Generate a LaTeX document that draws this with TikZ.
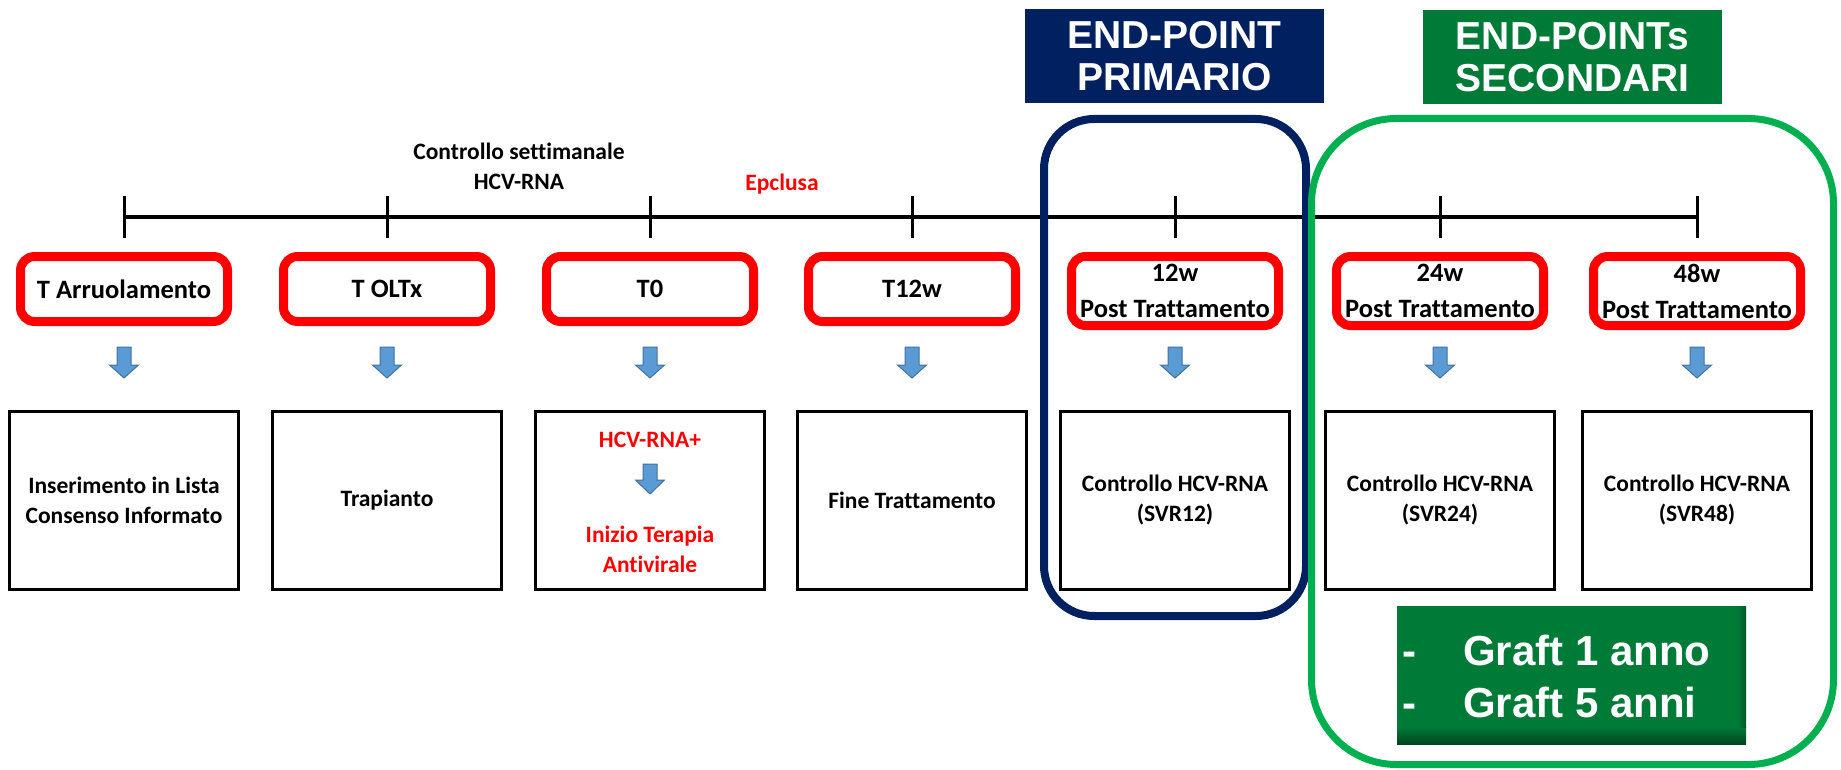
\documentclass[tikz,border=0pt]{standalone}
\usepackage{fontspec}
\setmainfont{Carlito}[Ligatures=NoCommon]
\newfontfamily\arialf{Liberation Sans}
\usetikzlibrary{calc}
\definecolor{epnavy}{HTML}{002060}
\definecolor{gline}{HTML}{00B050}
\definecolor{gfill}{HTML}{007A37}
\definecolor{gdark}{HTML}{00451F}
\definecolor{afill}{HTML}{5B9BD5}
\definecolor{aline}{HTML}{41719C}
\newcommand\dnarrow[4]{%
  \filldraw[blockarrow] ({#1-7},#2) -- ({#1+7},#2) -- ({#1+7},#3) -- ({#1+14.5},#3) -- ({#1},#4) -- ({#1-14.5},#3) -- ({#1-7},#3) -- cycle;}
\begin{document}
\begin{tikzpicture}[x=1pt,y=-1pt,
  redbox/.style={draw=red, line width=9pt, rounded corners=14pt, minimum width=207pt, inner sep=0pt, align=center, font=\fontsize{26.5}{36}\selectfont\bfseries},
  blackbox/.style={draw=black, line width=3pt, minimum width=229pt, minimum height=178pt, inner sep=0pt, align=center, font=\fontsize{23.5}{30}\selectfont\bfseries},
  btext/.style={align=center, font=\fontsize{23.5}{30}\selectfont\bfseries, inner sep=0pt},
  tickline/.style={line width=3pt},
  blockarrow/.style={fill=afill, draw=aline, line width=1pt},
  labelbox/.style={text=white, minimum width=299pt, minimum height=94pt, inner sep=0pt, align=center, font=\arialf\bfseries\fontsize{39}{42}\selectfont},
  grafttext/.style={text=white, inner sep=0pt, anchor=base west, font=\arialf\bfseries\fontsize{42}{52}\selectfont}
]
\useasboundingbox (0,0) rectangle (1841,770);

% timeline
\foreach \x/\n in {124/1,387/2,650/3,912/4,1175/5,1440/6,1697/7}{
  \coordinate (t\n) at (\x,217);
  \draw[tickline] (\x,196) -- (\x,238);
  \dnarrow{\x}{347}{365}{378}
}
\draw[line width=3.5pt] (t1) -- (t7);

% top texts
\node[btext] (ctrl) at (519,166.5) {Controllo settimanale\\HCV-RNA};
\node[btext, text=red, anchor=base] (epc) at (782,190) {Epclusa};

% red time boxes
\node[redbox, minimum height=65pt] (r1) at (124,289) {T Arruolamento};
\node[redbox, minimum height=65pt] (r2) at (387,289) {T OLTx};
\node[redbox, minimum height=65pt] (r3) at (650,289) {T0};
\node[redbox, minimum height=65pt] (r4) at (912,289) {T12w};
\node[redbox, minimum height=69pt] (r5) at (1175,291) {12w\\Post Trattamento};
\node[redbox, minimum height=69pt] (r6) at (1440,291) {24w\\Post Trattamento};
\node[redbox, minimum height=69pt] (r7) at (1697,291) {48w\\Post Trattamento};

% black boxes
\node[blackbox] (b1) at (124,500) {Inserimento in Lista\\Consenso Informato};
\node[blackbox] (b2) at (387,500) {Trapianto};
\node[blackbox] (b3) at (650,500) {};
\node[blackbox] (b4) at (912,500) {Fine Trattamento};
\node[blackbox] (b5) at (1175,500) {Controllo HCV-RNA\\(SVR12)};
\node[blackbox] (b6) at (1440,500) {Controllo HCV-RNA\\(SVR24)};
\node[blackbox] (b7) at (1697,500) {Controllo HCV-RNA\\(SVR48)};
\node[btext, text=red] (b3a) at (650,440) {HCV-RNA+};
\node[btext, text=red] (b3b) at (650,549.5) {Inizio Terapia\\Antivirale};
\dnarrow{650}{464}{480}{494}

% end-point frames
\node[draw=epnavy, line width=8pt, rounded corners=50pt, minimum width=262pt, minimum height=497pt, inner sep=0pt] (pframe) at (1175,367.5) {};
\node[draw=gline, line width=7pt, rounded corners=85pt, minimum width=522pt, minimum height=646pt, inner sep=0pt] (sframe) at (1572.5,441.5) {};

% labels
\node[labelbox, fill=epnavy] (plabel) at (1174.5,56) {END-POINT\\PRIMARIO};
\node[labelbox, fill=gfill] (slabel) at (1572.5,57) {END-POINTs\\SECONDARI};

% graft box
\node[fill=gfill, minimum width=349pt, minimum height=138pt, inner sep=0pt] (graft) at (1571.5,675) {};
\shade[top color=gfill, bottom color=gdark] (1397,727) rectangle (1746,744);
\shade[left color=gfill, right color=gdark!70!gfill] (1738,606) rectangle (1746,727);
\node[grafttext] (g1) at (1402,665) {-\hspace{47pt}Graft 1 anno};
\node[grafttext] (g2) at (1402,717) {-\hspace{47pt}Graft 5 anni};
\end{tikzpicture}
\end{document}
